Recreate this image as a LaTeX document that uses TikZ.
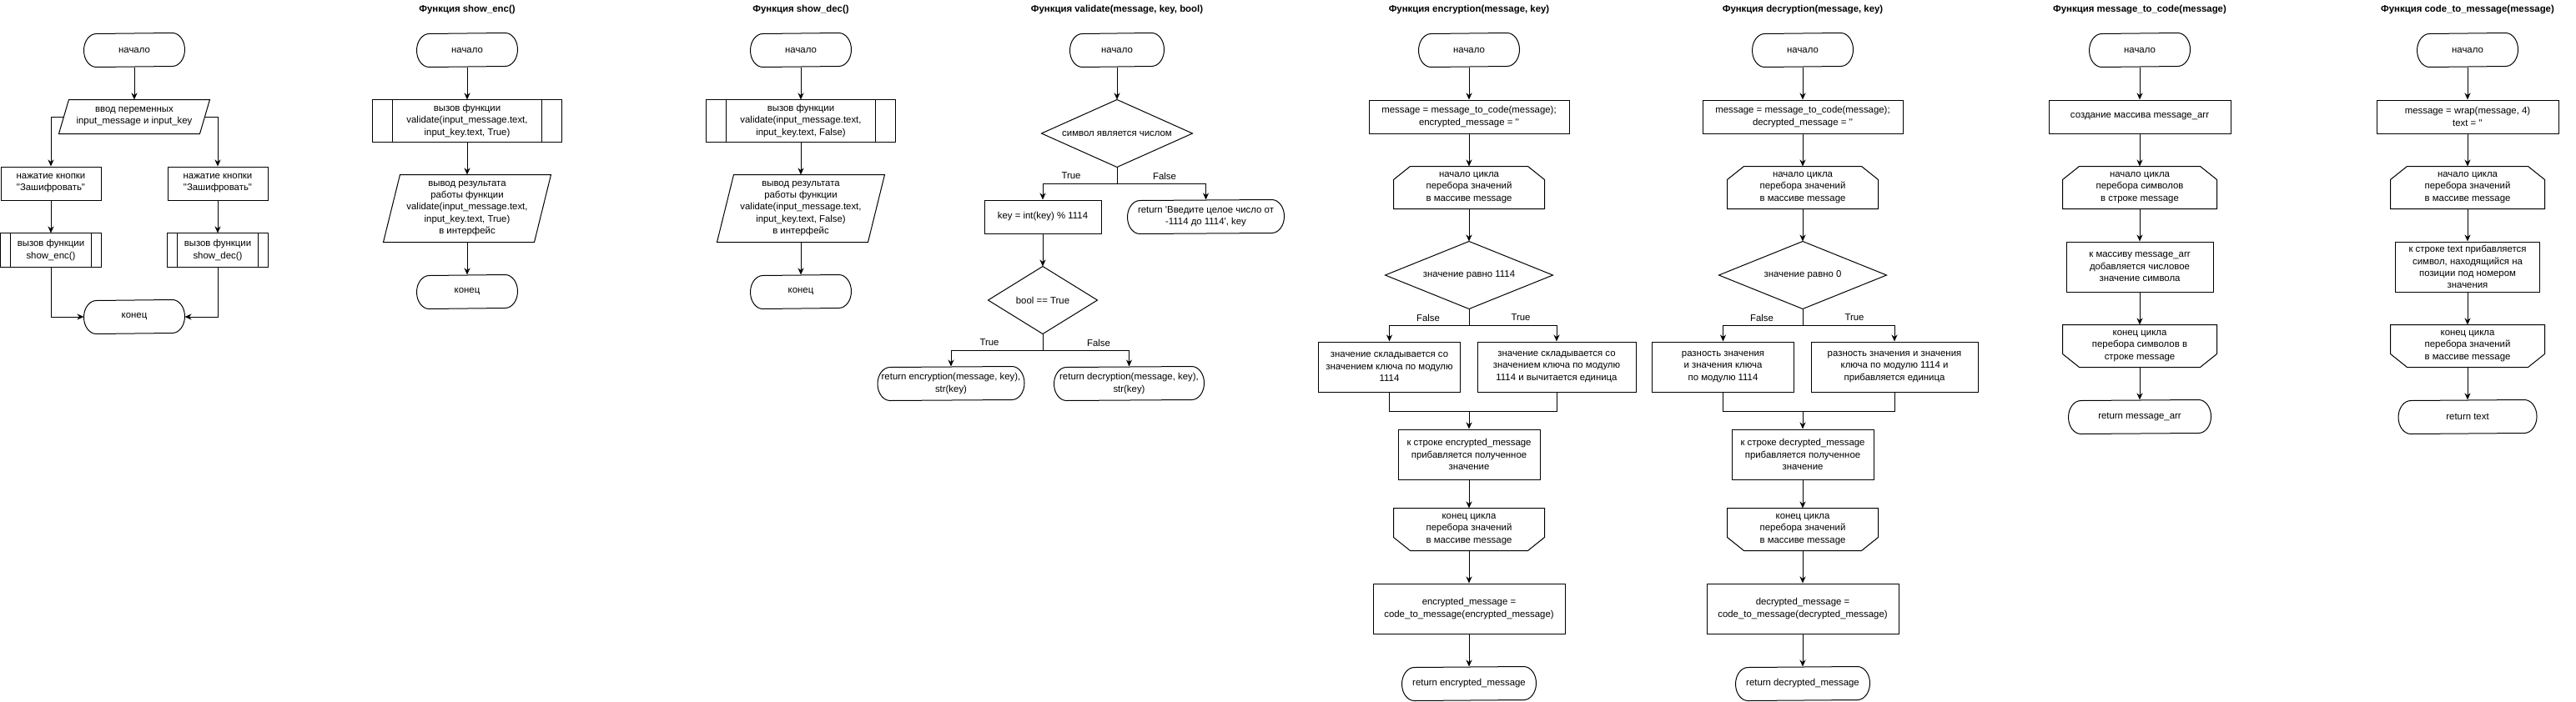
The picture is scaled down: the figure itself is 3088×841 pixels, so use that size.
\documentclass[tikz,border=0pt]{standalone}
\usepackage{fontspec}
\newfontfamily\nfam{Liberation Sans}
\newcommand\nf{\nfam\fontsize{11.4}{14.2}\selectfont}
\newcommand\bnf{\nfam\bfseries\fontsize{11.4}{14.2}\selectfont}
\usetikzlibrary{arrows.meta}
\tikzset{
  base/.style={font=\nf, align=center, inner sep=0pt, line width=1pt},
  boxs/.style={base, draw, rectangle},
  hid/.style={base, rectangle},
  sz/.style 2 args={minimum width=#1pt, minimum height=#2pt},
  arr/.style={line width=1pt, -{Stealth[length=8pt,width=7pt,inset=2.5pt]}},
  ln/.style={line width=1pt},
  lbl/.style={font=\nf, inner sep=0pt},
  ttl/.style={font=\bnf, inner sep=0pt},
}
\newcommand\fcterm[1]{\draw[ln] ([xshift=-15pt]#1.north east) arc[start angle=90,end angle=-90,x radius=15pt,y radius=20pt] -- ([xshift=15pt]#1.south west) arc[start angle=270,end angle=90,x radius=15pt,y radius=20pt] -- cycle;}
\newcommand\fcloops[1]{\draw[ln] ([xshift=20pt]#1.north west) -- ([xshift=-20pt]#1.north east) -- ([yshift=-16pt]#1.north east) -- (#1.south east) -- (#1.south west) -- ([yshift=-16pt]#1.north west) -- cycle;}
\newcommand\fcloope[1]{\draw[ln] (#1.north west) -- (#1.north east) -- ([yshift=16pt]#1.south east) -- ([xshift=-20pt]#1.south east) -- ([xshift=20pt]#1.south west) -- ([yshift=16pt]#1.south west) -- cycle;}
\newcommand\fcpara[2]{\draw[ln] ([xshift=#2pt]#1.north west) -- (#1.north east) -- ([xshift=-#2pt]#1.south east) -- (#1.south west) -- cycle;}
\newcommand\fcsub[2]{\draw[ln] (#1.north west) rectangle (#1.south east); \draw[ln] ([xshift=#2pt]#1.north west) -- ([xshift=#2pt]#1.south west) ([xshift=-#2pt]#1.north east) -- ([xshift=-#2pt]#1.south east);}
\newcommand\fcdiam[1]{\draw[ln] (#1.north) -- (#1.east) -- (#1.south) -- (#1.west) -- cycle;}
\begin{document}
\begin{tikzpicture}[x=1pt,y=-1pt]
\useasboundingbox (0,0) rectangle (3088,841);
\fill[white] (0,0) rectangle (3088,841);

% ---------- main ----------
\node[hid, sz={120}{40}] (m0) at (161,60) {начало}; \fcterm{m0}
\node[hid, sz={180}{40}] (m1) at (161,140) {ввод переменных\\input\_message и input\_key}; \fcpara{m1}{12}
\node[boxs, sz={120}{40}] (mL) at (61,220) {нажатие кнопки\\"Зашифровать"};
\node[boxs, sz={120}{40}] (mR) at (261,220) {нажатие кнопки\\"Зашифровать"};
\node[hid, sz={120}{40}] (mLs) at (61,300) {вызов функции\\show\_enc()}; \fcsub{mLs}{12}
\node[hid, sz={120}{40}] (mRs) at (261,300) {вызов функции\\show\_dec()}; \fcsub{mRs}{12}
\node[hid, sz={120}{40}] (mE) at (161,380) {конец}; \fcterm{mE}
\draw[arr] (m0.south) -- (m1.north);
\draw[arr] ([xshift=6pt]m1.west) -| (mL.north);
\draw[arr] ([xshift=-6pt]m1.east) -| (mR.north);
\draw[arr] (mL.south) -- (mLs.north);
\draw[arr] (mR.south) -- (mRs.north);
\draw[arr] (mLs.south) |- (mE.west);
\draw[arr] (mRs.south) |- (mE.east);

% ---------- show_enc ----------
\node[ttl] (ta) at (560,12) {Функция show\_enc()};
\node[hid, sz={120}{40}] (a0) at (560,60) {начало}; \fcterm{a0}
\node[hid, sz={226}{50}] (a1) at (560,145) {вызов функции\\validate(input\_message.text,\\input\_key.text, True)}; \fcsub{a1}{24}
\node[hid, sz={200}{80}] (a2) at (560,250) {вывод результата\\работы функции\\validate(input\_message.text,\\input\_key.text, True)\\в интерфейс}; \fcpara{a2}{20}
\node[hid, sz={120}{40}] (a3) at (560,350) {конец}; \fcterm{a3}
\draw[arr] (a0.south) -- (a1.north);
\draw[arr] (a1.south) -- (a2.north);
\draw[arr] (a2.south) -- (a3.north);

% ---------- show_dec ----------
\node[ttl] (tb) at (960,12) {Функция show\_dec()};
\node[hid, sz={120}{40}] (b0) at (960,60) {начало}; \fcterm{b0}
\node[hid, sz={226}{50}] (b1) at (960,145) {вызов функции\\validate(input\_message.text,\\input\_key.text, False)}; \fcsub{b1}{24}
\node[hid, sz={200}{80}] (b2) at (960,250) {вывод результата\\работы функции\\validate(input\_message.text,\\input\_key.text, False)\\в интерфейс}; \fcpara{b2}{20}
\node[hid, sz={120}{40}] (b3) at (960,350) {конец}; \fcterm{b3}
\draw[arr] (b0.south) -- (b1.north);
\draw[arr] (b1.south) -- (b2.north);
\draw[arr] (b2.south) -- (b3.north);

% ---------- validate ----------
\node[ttl] (tv) at (1339,12) {Функция validate(message, key, bool)};
\node[hid, sz={112}{40}] (v0) at (1339,60) {начало}; \fcterm{v0}
\node[hid, sz={180}{80}] (v1) at (1339,160) {символ является числом}; \fcdiam{v1}
\node[boxs, sz={140}{40}] (v2) at (1250,260) {key = int(key) \% 1114};
\node[hid, sz={187}{40}] (v3) at (1445.5,260) {return 'Введите целое число от\\-1114 до 1114', key}; \fcterm{v3}
\node[hid, sz={130}{80}] (v4) at (1250,360) {bool == True}; \fcdiam{v4}
\node[hid, sz={175}{40}] (v5) at (1140,460) {return encryption(message, key),\\str(key)}; \fcterm{v5}
\node[hid, sz={179}{40}] (v6) at (1353.5,460) {return decryption(message, key),\\str(key)}; \fcterm{v6}
\coordinate (v1s) at (1339,220);
\coordinate (v4s) at (1250,420);
\draw[arr] (v0.south) -- (v1.north);
\draw[ln] (v1.south) -- (v1s);
\draw[arr] (v1s) -| (v2.north);
\draw[arr] (v1s) -| (v3.north);
\draw[arr] (v2.south) -- (v4.north);
\draw[ln] (v4.south) -- (v4s);
\draw[arr] (v4s) -| (v5.north);
\draw[arr] (v4s) -| (v6.north);
\node[lbl] (lv1) at (1284,211) {True};
\node[lbl] (lv2) at (1396,211) {False};
\node[lbl] (lv3) at (1186,411) {True};
\node[lbl] (lv4) at (1317,411) {False};

% ---------- encryption ----------
\node[ttl] (te) at (1761,12) {Функция encryption(message, key)};
\node[hid, sz={120}{40}] (e0) at (1761,60) {начало}; \fcterm{e0}
\node[boxs, sz={240}{40}] (e1) at (1761,140) {message = message\_to\_code(message);\\encrypted\_message = ''};
\node[hid, sz={180}{50}] (e2) at (1761,225) {начало цикла\\перебора значений\\в массиве message}; \fcloops{e2}
\node[hid, sz={200}{80}] (e3) at (1761,330) {значение равно 1114}; \fcdiam{e3}
\node[boxs, sz={170}{60}] (e4) at (1665.5,440) {значение складывается со\\значением ключа по модулю\\1114};
\node[boxs, sz={190}{60}] (e5) at (1866,440) {значение складывается со\\значением ключа по модулю\\1114 и вычитается единица};
\node[boxs, sz={170}{60}] (e6) at (1761,545) {к строке encrypted\_message\\прибавляется полученное\\значение};
\node[hid, sz={180}{50}] (e7) at (1761,635) {конец цикла\\перебора значений\\в массиве message}; \fcloope{e7}
\node[boxs, sz={230}{60}] (e8) at (1761,730) {encrypted\_message =\\code\_to\_message(encrypted\_message)};
\node[hid, sz={160}{40}] (e9) at (1761,820) {return encrypted\_message}; \fcterm{e9}
\coordinate (e3s) at (1761,390);
\coordinate (ej) at (1761,493);
\draw[arr] (e0.south) -- (e1.north);
\draw[arr] (e1.south) -- (e2.north);
\draw[arr] (e2.south) -- (e3.north);
\draw[ln] (e3.south) -- (e3s);
\draw[arr] (e3s) -| (e4.north);
\draw[arr] (e3s) -| (e5.north);
\draw[ln] (e4.south) |- (ej);
\draw[ln] (e5.south) |- (ej);
\draw[arr] (ej) -- (e6.north);
\draw[arr] (e6.south) -- (e7.north);
\draw[arr] (e7.south) -- (e8.north);
\draw[arr] (e8.south) -- (e9.north);
\node[lbl] (le1) at (1712,381) {False};
\node[lbl] (le2) at (1823,381) {True};

% ---------- decryption ----------
\node[ttl] (td) at (2161,12) {Функция decryption(message, key)};
\node[hid, sz={120}{40}] (d0) at (2161,60) {начало}; \fcterm{d0}
\node[boxs, sz={240}{40}] (d1) at (2161,140) {message = message\_to\_code(message);\\decrypted\_message = ''};
\node[hid, sz={180}{50}] (d2) at (2161,225) {начало цикла\\перебора значений\\в массиве message}; \fcloops{d2}
\node[hid, sz={200}{80}] (d3) at (2161,330) {значение равно 0}; \fcdiam{d3}
\node[boxs, sz={170}{60}] (d4) at (2065.5,440) {разность значения\\и значения ключа\\по модулю 1114};
\node[boxs, sz={200}{60}] (d5) at (2271,440) {разность значения и значения\\ключа по модулю 1114 и\\прибавляется единица};
\node[boxs, sz={170}{60}] (d6) at (2161,545) {к строке decrypted\_message\\прибавляется полученное\\значение};
\node[hid, sz={180}{50}] (d7) at (2161,635) {конец цикла\\перебора значений\\в массиве message}; \fcloope{d7}
\node[boxs, sz={230}{60}] (d8) at (2161,730) {decrypted\_message =\\code\_to\_message(decrypted\_message)};
\node[hid, sz={160}{40}] (d9) at (2161,820) {return decrypted\_message}; \fcterm{d9}
\coordinate (d3s) at (2161,390);
\coordinate (dj) at (2161,493);
\draw[arr] (d0.south) -- (d1.north);
\draw[arr] (d1.south) -- (d2.north);
\draw[arr] (d2.south) -- (d3.north);
\draw[ln] (d3.south) -- (d3s);
\draw[arr] (d3s) -| (d4.north);
\draw[arr] (d3s) -| (d5.north);
\draw[ln] (d4.south) |- (dj);
\draw[ln] (d5.south) |- (dj);
\draw[arr] (dj) -- (d6.north);
\draw[arr] (d6.south) -- (d7.north);
\draw[arr] (d7.south) -- (d8.north);
\draw[arr] (d8.south) -- (d9.north);
\node[lbl] (ld1) at (2112,381) {False};
\node[lbl] (ld2) at (2223,381) {True};

% ---------- message_to_code ----------
\node[ttl] (tc) at (2565,12) {Функция message\_to\_code(message)};
\node[hid, sz={120}{40}] (c0) at (2565,60) {начало}; \fcterm{c0}
\node[boxs, sz={218}{40}] (c1) at (2565,140) {создание массива message\_arr};
\node[hid, sz={184}{50}] (c2) at (2565,225) {начало цикла\\перебора символов\\в строке message}; \fcloops{c2}
\node[boxs, sz={176}{60}] (c3) at (2565,320) {к массиву message\_arr\\добавляется числовое\\значение символа};
\node[hid, sz={184}{50}] (c4) at (2565,415) {конец цикла\\перебора символов в\\строке message}; \fcloope{c4}
\node[hid, sz={170}{40}] (c5) at (2565,500) {return message\_arr}; \fcterm{c5}
\draw[arr] (c0.south) -- (c1.north);
\draw[arr] (c1.south) -- (c2.north);
\draw[arr] (c2.south) -- (c3.north);
\draw[arr] (c3.south) -- (c4.north);
\draw[arr] (c4.south) -- (c5.north);

% ---------- code_to_message ----------
\node[ttl] (tt) at (2958,12) {Функция code\_to\_message(message)};
\node[hid, sz={120}{40}] (t0) at (2958,60) {начало}; \fcterm{t0}
\node[boxs, sz={218}{40}] (t1) at (2958,140) {message = wrap(message, 4)\\text = ''};
\node[hid, sz={184}{50}] (t2) at (2958,225) {начало цикла\\перебора значений\\в массиве message}; \fcloops{t2}
\node[boxs, sz={173}{60}] (t3) at (2958,320) {к строке text прибавляется\\символ, находящийся на\\позиции под номером\\значения};
\node[hid, sz={184}{50}] (t4) at (2958,415) {конец цикла\\перебора значений\\в массиве message}; \fcloope{t4}
\node[hid, sz={165}{40}] (t5) at (2958,500) {return text}; \fcterm{t5}
\draw[arr] (t0.south) -- (t1.north);
\draw[arr] (t1.south) -- (t2.north);
\draw[arr] (t2.south) -- (t3.north);
\draw[arr] (t3.south) -- (t4.north);
\draw[arr] (t4.south) -- (t5.north);
\end{tikzpicture}
\end{document}
